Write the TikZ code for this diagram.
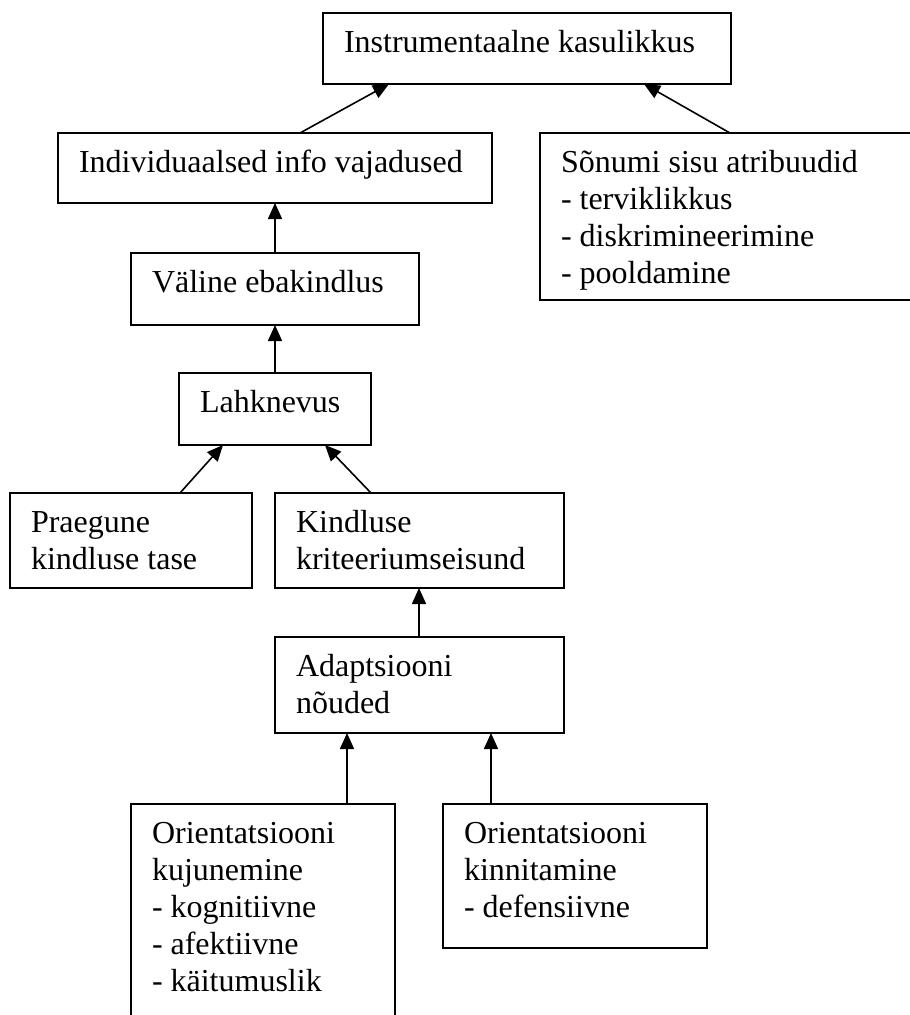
\documentclass[tikz,border=0pt]{standalone}
\usepackage{fontspec}
\setmainfont{Liberation Serif}
\usetikzlibrary{arrows.meta}
\newcommand{\bt}[3]{\begin{minipage}[t][#2][t]{#1}\vspace*{14.2pt}\setlength{\leftskip}{21pt}\strut #3\end{minipage}}
\tikzset{
  bx/.style={draw, line width=1.6pt, inner sep=0pt, outer sep=0pt, anchor=north west,
    font=\fontsize{32pt}{36.8pt}\selectfont},
  arr/.style={line width=1.6pt, -{Triangle[length=16pt,width=14pt]}}
}
\begin{document}
\begin{tikzpicture}[x=1pt,y=-1pt]
\useasboundingbox (0,0) rectangle (910,1015);
\clip (0,0) rectangle (910,1015);
\fill[white] (0,0) rectangle (910,1015);
\node[bx] (A) at (323,13) {\bt{408pt}{71pt}{Instrumentaalne kasulikkus}};
\node[bx] (B) at (58,133) {\bt{434pt}{70pt}{Individuaalsed info vajadused}};
\node[bx] (C) at (540,133) {\bt{380pt}{167pt}{Sõnumi sisu atribuudid\\\strut - terviklikkus\\\strut - diskrimineerimine\\\strut - pooldamine}};
\node[bx] (D) at (131,253) {\bt{288pt}{72pt}{Väline ebakindlus}};
\node[bx] (E) at (179,373) {\bt{192pt}{72pt}{Lahknevus}};
\node[bx] (F) at (10,493) {\bt{242pt}{95pt}{Praegune\\\strut kindluse tase}};
\node[bx] (G) at (275,493) {\bt{289pt}{95pt}{Kindluse\\\strut kriteeriumseisund}};
\node[bx] (H) at (275,637) {\bt{289pt}{96pt}{Adaptsiooni\\\strut nõuded}};
\node[bx] (I) at (131,804) {\bt{264pt}{240pt}{Orientatsiooni\\\strut kujunemine\\\strut - kognitiivne\\\strut - afektiivne\\\strut - käitumuslik}};
\node[bx] (J) at (443,804) {\bt{264pt}{144pt}{Orientatsiooni\\\strut kinnitamine\\\strut - defensiivne}};
\draw[arr] ([xshift=242pt]B.north west) -- ([xshift=66pt]A.south west);
\draw[arr] ([xshift=190pt]C.north west) -- ([xshift=321pt]A.south west);
\draw[arr] ([xshift=144pt]D.north west) -- ([xshift=217pt]B.south west);
\draw[arr] ([xshift=96pt]E.north west) -- ([xshift=144pt]D.south west);
\draw[arr] ([xshift=170pt]F.north west) -- ([xshift=44pt]E.south west);
\draw[arr] ([xshift=96pt]G.north west) -- ([xshift=146pt]E.south west);
\draw[arr] ([xshift=144pt]H.north west) -- ([xshift=144pt]G.south west);
\draw[arr] ([xshift=216pt]I.north west) -- ([xshift=72pt]H.south west);
\draw[arr] ([xshift=48pt]J.north west) -- ([xshift=216pt]H.south west);
\end{tikzpicture}
\end{document}
